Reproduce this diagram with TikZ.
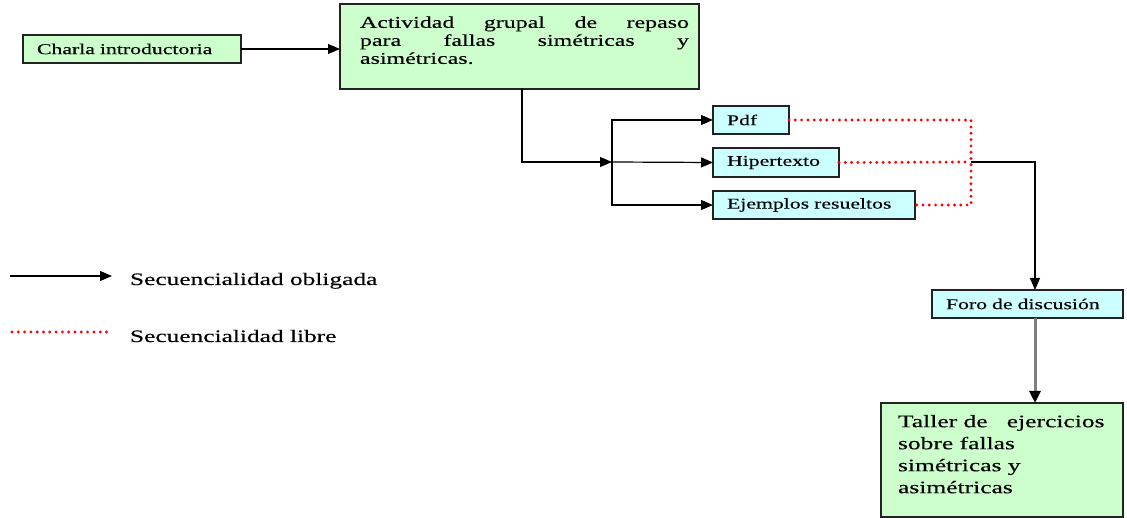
\documentclass[tikz,border=0pt]{standalone}
\usepackage{fontspec}
\setmainfont{Liberation Serif}[FakeStretch=1.45,FakeBold=0.3]
\usetikzlibrary{arrows.meta}
\definecolor{boxgreen}{HTML}{CCFFCC}
\definecolor{boxcyan}{HTML}{CCFFFF}
\definecolor{edgec}{HTML}{222222}
\definecolor{grayline}{HTML}{7F7F7F}
\begin{document}
\begin{tikzpicture}[x=1pt,y=-1pt,
  box/.style={draw=edgec, line width=1.3pt, anchor=north west, inner ysep=0pt, outer sep=0pt},
  gbox/.style={box, fill=boxgreen},
  cbox/.style={box, fill=boxcyan},
  lbl/.style={inner xsep=14pt, align=left, font=\fontsize{15}{18}\selectfont},
  txt/.style={inner sep=0pt, outer sep=0pt},
  arr/.style={-{Triangle[length=12pt,width=10pt]}, line width=1.2pt, draw=black},
  garr/.style={-{Triangle[length=12pt,width=11pt,color=black]}, line width=3pt, draw=grayline},
  dotred/.style={draw=red, line width=3.2pt, dash pattern=on 0pt off 6.3pt, line cap=round},
]
\useasboundingbox (0,0) rectangle (1127,518);

% boxes
\node[gbox, lbl, minimum width=218, minimum height=28, text width=190] (charla) at (23,35) {Charla introductoria};
\node[gbox, minimum width=359, minimum height=85, inner xsep=0pt] (act) at (340,4) {};
\node[txt, anchor=north west, text width=329, align=left, font=\fontsize{16.5}{18}\selectfont] (actT) at (360,16.4)
  {\makebox[329pt][s]{Actividad\hfill grupal\hfill de\hfill repaso}\\
   \makebox[329pt][s]{para\hfill fallas\hfill simétricas\hfill y}\\
   asimétricas.};

\node[cbox, lbl, minimum width=76, minimum height=28, text width=48] (pdf) at (713,106) {Pdf};
\node[cbox, lbl, minimum width=126, minimum height=29, text width=98] (hip) at (713,148) {Hipertexto};
\node[cbox, lbl, minimum width=202, minimum height=28, text width=174] (ej) at (713,191) {Ejemplos resueltos};

\node[cbox, lbl, minimum width=191, minimum height=28, text width=163] (foro) at (932,290) {Foro de discusión};

\node[gbox, minimum width=242, minimum height=114, inner xsep=0pt] (taller) at (881,403) {};
\node[txt, anchor=north west, align=left, font=\fontsize{17.6}{22}\selectfont] (tallerT) at (898,415)
  {Taller de \ \ ejercicios\\sobre fallas\\simétricas y\\asimétricas};

% coordinates
\coordinate (ax) at (522,0);
\coordinate (jn) at (612,162);
\coordinate (rc) at (971,162);
\coordinate (vx) at (1035,0);

% connectors
\draw[arr] (charla.east) -- (act.west |- charla.east);
\draw[arr] (act.south -| ax) |- (jn);
\draw[arr] (jn) -- (hip.west);
\draw[arr] (jn) |- (pdf.west);
\draw[arr] (jn) |- (ej.west);

\draw[dotred] (pdf.east) -- (pdf.east -| rc) -- (ej.east -| rc) -- (ej.east);
\draw[dotred] (hip.east) -- (rc);

\draw[arr] (rc) -| (foro.north -| vx);
\draw[garr] (foro.south -| vx) -- (taller.north -| vx);

% legend
\coordinate (la1) at (10,276);
\coordinate (la2) at (112,276);
\coordinate (lb1) at (12,332);
\coordinate (lb2) at (108,332);
\draw[arr] (la1) -- (la2);
\draw[dotred] (lb1) -- (lb2);
\node[txt, anchor=base west, font=\fontsize{17.5}{20}\selectfont] (leg1) at (130,285) {Secuencialidad obligada};
\node[txt, anchor=base west, font=\fontsize{17.5}{20}\selectfont] (leg2) at (130,342) {Secuencialidad libre};
\end{tikzpicture}
\end{document}
